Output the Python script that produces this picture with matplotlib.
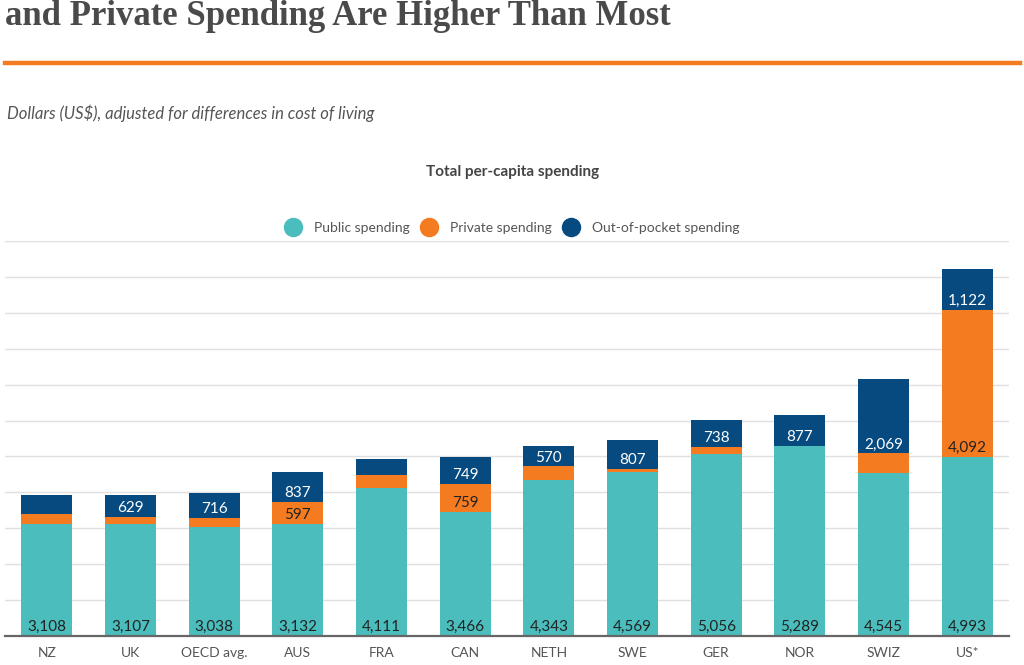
import matplotlib
matplotlib.use("Agg")
import matplotlib.pyplot as plt
from matplotlib.lines import Line2D

# data (US$ per capita)
countries = ['NZ', 'UK', 'OECD avg.', 'AUS', 'FRA', 'CAN', 'NETH', 'SWE', 'GER', 'NOR', 'SWIZ', 'US*']
public = [3108, 3107, 3038, 3132, 4111, 3466, 4343, 4569, 5056, 5289, 4545, 4993]
private = [290, 200, 240, 597, 360, 759, 380, 80, 212, 0, 540, 4092]
oop = [520, 629, 716, 837, 450, 749, 570, 807, 738, 877, 2069, 1122]

# which segments carry a printed value in the original
show_public = [True] * 12
show_private = [False, False, False, True, False, True, False, False, False, False, False, True]
show_oop = [False, True, True, True, False, True, True, True, True, True, True, True]

teal = '#4bbdbd'
orange = '#f47b20'
navy = '#064a7f'

plt.rcParams['font.family'] = ['Lato', 'DejaVu Sans']

W, H = 1024, 665
fig = plt.figure(figsize=(W / 100, H / 100), dpi=100)

def fy(y):
    return 1 - y / H

# axes placed in pixels: x 5..1009, y 241..636
ax = fig.add_axes([5 / W, (H - 636) / H, 1004 / W, 395 / H])

x = range(len(countries))
bottom2 = [a + b for a, b in zip(public, private)]
bw = 0.61
ax.bar(x, public, width=bw, color=teal, zorder=2)
ax.bar(x, private, width=bw, bottom=public, color=orange, zorder=2)
ax.bar(x, oop, width=bw, bottom=bottom2, color=navy, zorder=2)

def put_labels(vals, bases, show, color):
    for i, (v, b, s) in enumerate(zip(vals, bases, show)):
        if s:
            ax.annotate(f"{v:,}", (i, b), xytext=(0, 3.5), textcoords='offset points',
                        ha='center', va='baseline', fontsize=11, color=color, zorder=3)

put_labels(public, [0] * 12, show_public, '#222222')
put_labels(private, public, show_private, '#222222')
put_labels(oop, bottom2, show_oop, 'white')

ax.set_xlim(-0.5, 11.5)
ax.set_ylim(0, 11000)
ax.set_yticks(range(0, 11001, 1000))
ax.yaxis.grid(True, color='#e0e0e0', lw=1, zorder=0)
ax.tick_params(axis='y', left=False, labelleft=False)
ax.tick_params(axis='x', length=0, pad=8, labelsize=10, labelcolor='#555555')
ax.set_xticks(list(x))
ax.set_xticklabels(countries)
for s in ['top', 'right', 'left']:
    ax.spines[s].set_visible(False)
ax.spines['bottom'].set_color('#666666')
ax.spines['bottom'].set_linewidth(1.6)
ax.spines['bottom'].set_zorder(4)

# header
fig.text(5 / W, fy(25), 'and Private Spending Are Higher Than Most', fontsize=25,
         fontweight='bold', family=['Liberation Serif', 'DejaVu Serif'], color='#4a4a4a',
         ha='left', va='baseline')
fig.add_artist(Line2D([5 / W, 1020 / W], [fy(63), fy(63)], color=orange, lw=3.2))
fig.text(7 / W, fy(119), 'Dollars (US$), adjusted for differences in cost of living', fontsize=12,
         style='italic', color='#555555', ha='left', va='baseline')
fig.text(513 / W, fy(172), 'Total per-capita spending', fontsize=11, fontweight='bold',
         color='#444444', ha='center', va='center')

handles = [Line2D([], [], marker='o', ls='', markersize=13, color=c) for c in (teal, orange, navy)]
fig.legend(handles, ['Public spending', 'Private spending', 'Out-of-pocket spending'],
           loc='center', bbox_to_anchor=(512 / W, fy(228)), ncol=3, frameon=False,
           fontsize=10, labelcolor='#555555', handletextpad=0.9, columnspacing=0.8,
           handlelength=1.2)

fig.savefig('out.png', dpi=100)
